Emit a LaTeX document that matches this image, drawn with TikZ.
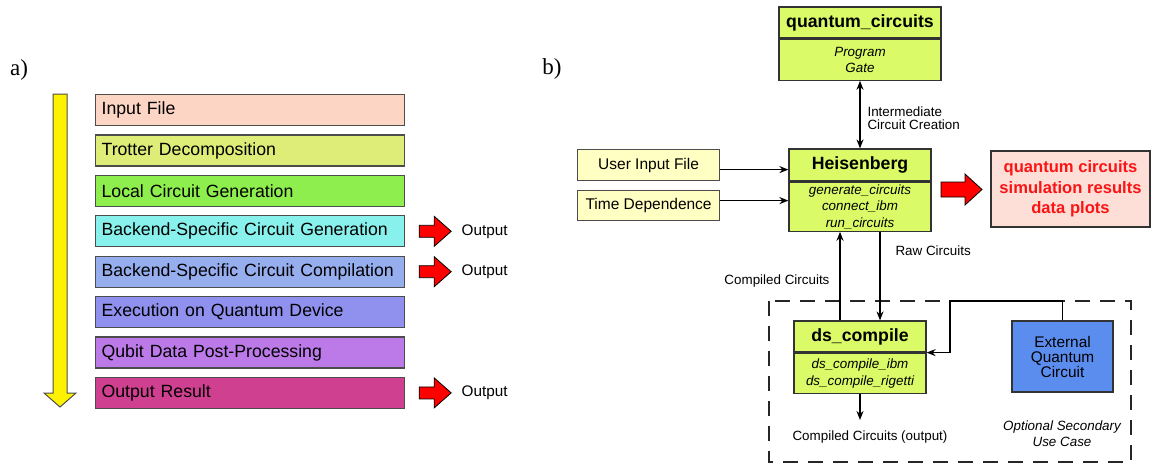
\documentclass[tikz,border=0pt]{standalone}
\usepackage{fontspec}
\setmainfont{Liberation Sans}
\newfontfamily\panelfont{Liberation Serif}
\usetikzlibrary{arrows, arrows.meta, positioning}

\definecolor{cInput}{RGB}{252,213,196}
\definecolor{cTrotter}{RGB}{221,237,119}
\definecolor{cLocal}{RGB}{142,238,78}
\definecolor{cBackGen}{RGB}{136,241,236}
\definecolor{cBackComp}{RGB}{151,174,238}
\definecolor{cExec}{RGB}{144,144,238}
\definecolor{cQubit}{RGB}{188,122,233}
\definecolor{cOutput}{RGB}{208,64,144}
\definecolor{modgreen}{RGB}{218,250,104}
\definecolor{userfill}{RGB}{255,255,196}
\definecolor{extblue}{RGB}{91,141,239}
\definecolor{resfill}{RGB}{253,223,216}
\definecolor{resred}{RGB}{250,20,20}

\tikzset{
  stage/.style={draw=black!70, line width=1.2pt, anchor=north west, minimum width=309pt,
    minimum height=31pt, text width=297pt, inner xsep=6pt, align=left,
    font=\fontsize{17.7}{20}\selectfont},
  modhead/.style={draw=black!80, line width=1.2pt, fill=modgreen, inner sep=0pt,
    font=\fontsize{17.7}{20}\selectfont\bfseries},
  modbody/.style={draw=black!80, line width=1.2pt, fill=modgreen, anchor=north,
    inner sep=0pt, align=center, font=\fontsize{13.4}{16.3}\selectfont\itshape},
  userbox/.style={draw=black!70, line width=1.2pt, fill=userfill, minimum width=142pt,
    minimum height=31pt, anchor=north west, font=\fontsize{15.5}{18}\selectfont},
  lbl/.style={font=\fontsize{13.4}{13.5}\selectfont},
  link/.style={line width=1.5pt, -{Stealth[length=9pt,width=7pt]}},
  smallred/.pic={\draw[fill=red, line width=0.8pt, line join=miter]
    (0,-6)--(15,-6)--(15,-15)--(32,0)--(15,15)--(15,6)--(0,6)--cycle;},
  bigred/.pic={\draw[fill=red, line width=0.8pt, line join=miter]
    (0,-7.5)--(24,-7.5)--(24,-15.5)--(41,0)--(24,15.5)--(24,7.5)--(0,7.5)--cycle;}
}

\begin{document}
\begin{tikzpicture}[x=1pt, y=-1pt]
\useasboundingbox (0,0) rectangle (1153,464);

% a) workflow
\node[font=\panelfont\fontsize{23}{23}\selectfont] (pa) at (19,70) {a)};
\draw[fill=yellow, draw=black!70, line width=1pt]
  (53,94)--(67,94)--(67,393)--(76,393)--(60,407)--(44,393)--(53,393)--cycle;

\foreach \txt/\col [count=\i from 0] in {Input File/cInput, Trotter Decomposition/cTrotter,
    Local Circuit Generation/cLocal, Backend-Specific Circuit Generation/cBackGen,
    Backend-Specific Circuit Compilation/cBackComp, Execution on Quantum Device/cExec,
    Qubit Data Post-Processing/cQubit, Output Result/cOutput}
{
    \node[stage, fill=\col] (s\i) at (95,94+40.4*\i) {\txt};
}

\foreach \i in {3,4,7}
{
    \pic at ([xshift=14pt]s\i.east) {smallred};
    \node[anchor=west, font=\fontsize{15.3}{18}\selectfont] (out\i) at ([xshift=53pt]s\i.east) {Output};
}

% b) module layout
\node[font=\panelfont\fontsize{23}{23}\selectfont] (pb) at (552,69) {b)};

\node[modhead, minimum width=162pt, minimum height=31pt] (qch) at (860,22.5) {quantum\_circuits};
\node[modbody, minimum width=162pt, minimum height=41pt] (qcb) at (qch.south) {Program\\Gate};

\node[modhead, minimum width=142pt, minimum height=32pt] (heish) at (860,165) {Heisenberg};
\node[modbody, minimum width=142pt, minimum height=49pt] (heisb) at (heish.south)
  {generate\_circuits\\connect\_ibm\\run\_circuits};

\node[userbox] (uif) at (577,149) {User Input File};
\node[userbox, minimum height=30pt] (tdep) at (577,190) {Time Dependence};

\node[draw=black!80, line width=1.2pt, fill=resfill, minimum width=159pt, minimum height=76pt,
  align=center, text=resred, font=\fontsize{16.6}{20.5}\selectfont\bfseries] (res) at (1070.5,189)
  {quantum circuits\\simulation results\\data plots};
\pic at (941,189.5) {bigred};

\node[modhead, minimum width=132pt, minimum height=31pt] (dsch) at (860,336.5) {ds\_compile};
\node[modbody, minimum width=132pt, minimum height=40pt, font=\fontsize{13.4}{17}\selectfont\itshape]
  (dscb) at (dsch.south) {ds\_compile\_ibm\\ds\_compile\_rigetti};

\node[draw=black!80, line width=1.2pt, fill=extblue, minimum width=101pt, minimum height=71pt,
  align=center, font=\fontsize{15.4}{15}\selectfont] (ext) at (1062.5,356.5)
  {External\\Quantum\\Circuit};

\draw[black!85, line width=2pt, dash pattern=on 15pt off 10pt] (769,301) rectangle (1131,462);

\draw[line width=1.5pt, {Stealth[length=9pt,width=7pt]}-{Stealth[length=9pt,width=7pt]}]
  (qcb.south) -- (heish.north);
\node[lbl, anchor=west, align=left] (icc) at (864,118) {Intermediate\\Circuit Creation};

\draw[link] ([yshift=-4.5pt]uif.east) -- ([yshift=-4.5pt]uif.east -| heish.west);
\draw[link] ([yshift=5pt]tdep.east) -- ([yshift=5pt]tdep.east -| heisb.west);

\draw[link] (dsch.north -| 840,0) -- (heisb.south -| 840,0);
\draw[link] (heisb.south -| 880,0) -- (dsch.north -| 880,0);
\node[lbl, anchor=east] (cc) at (833,281) {Compiled Circuits};
\node[lbl, anchor=west] (rc) at (892,251) {Raw Circuits};

\coordinate (junc) at (950,301);
\draw[link] (ext.north) |- (junc) |- (dsch.south east);

\coordinate (outpt) at (860,420);
\draw[link] (dscb.south) -- (outpt);
\node[lbl] (cco) at (870,437) {Compiled Circuits (output)};
\node[lbl, align=center, font=\fontsize{13.4}{16}\selectfont\itshape] (osu) at (1062,434)
  {Optional Secondary\\Use Case};
\end{tikzpicture}
\end{document}
